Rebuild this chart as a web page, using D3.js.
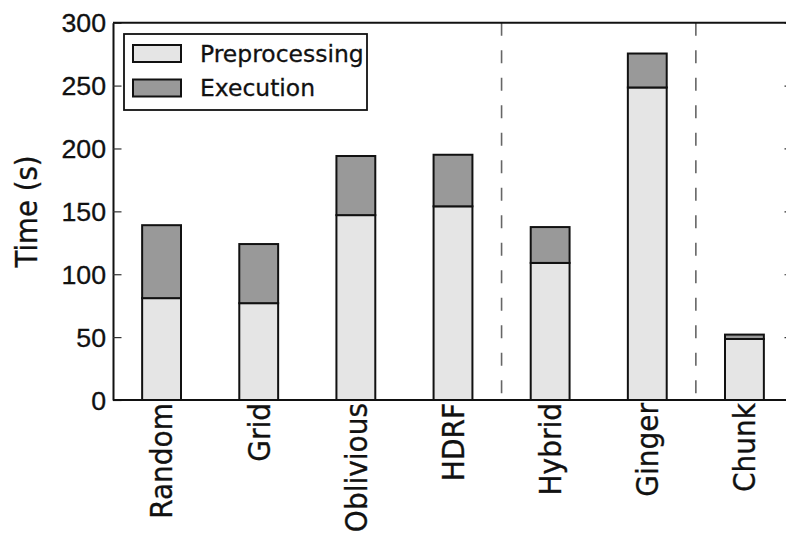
<!DOCTYPE html>
<html>
<head>
<meta charset="utf-8">
<script src="https://cdn.jsdelivr.net/npm/d3@7"></script>
<style>
  html, body { margin: 0; padding: 0; background: #fff; }
  svg { display: block; font-family: "DejaVu Sans", sans-serif; }
  svg text { stroke: #111; stroke-width: 0.3px; }
</style>
</head>
<body>
<div id="chart"></div>
<script>
const categories = ['Random', 'Grid', 'Oblivious', 'HDRF', 'Hybrid', 'Ginger', 'Chunk'];
const preprocessing = [81, 77, 147, 154, 109, 248.5, 48.5];
const execution = [58, 47, 47, 41, 28.5, 27, 3.5];
const seriesNames = ['Preprocessing', 'Execution'];
const yTicks = [0, 50, 100, 150, 200, 250, 300];
const groupStarts = ['Hybrid', 'Chunk']; // dashed separators before these

const width = 786;
const height = 533;
const margin = { top: 22.7, left: 113, right: -7, bottom: 133 };
const colors = ['#e5e5e5', '#999999'];

const svg = d3.select('#chart')
  .append('svg')
  .attr('width', width)
  .attr('height', height);

const x = d3.scaleBand()
  .domain(categories)
  .range([margin.left, width - margin.right])
  .paddingInner(0.6)
  .paddingOuter(0.3);

const y = d3.scaleLinear()
  .domain([0, 300])
  .range([height - margin.bottom, margin.top]);

// stacked rows
const rows = categories.map((c, i) => ({ cat: c, pre: preprocessing[i], exe: execution[i] }));

// group separators
svg.append('g')
  .selectAll('line')
  .data(groupStarts)
  .join('line')
  .attr('x1', d => x(d) - x.step() * x.paddingInner() / 2)
  .attr('x2', d => x(d) - x.step() * x.paddingInner() / 2)
  .attr('y1', y(300))
  .attr('y2', y(0))
  .attr('stroke', '#666')
  .attr('stroke-width', 1.6)
  .attr('stroke-dasharray', '13,14.5');

const bars = svg.append('g');
bars.selectAll('.pre')
  .data(rows)
  .join('rect')
  .attr('class', 'pre')
  .attr('x', d => x(d.cat))
  .attr('width', x.bandwidth())
  .attr('y', d => y(d.pre))
  .attr('height', d => y(0) - y(d.pre))
  .attr('fill', colors[0])
  .attr('stroke', '#111')
  .attr('stroke-width', 2);

bars.selectAll('.exe')
  .data(rows)
  .join('rect')
  .attr('class', 'exe')
  .attr('x', d => x(d.cat))
  .attr('width', x.bandwidth())
  .attr('y', d => y(d.pre + d.exe))
  .attr('height', d => y(d.pre) - y(d.pre + d.exe))
  .attr('fill', colors[1])
  .attr('stroke', '#111')
  .attr('stroke-width', 2);

// left axis, ticks pointing inward
const yAxis = svg.append('g')
  .attr('transform', 'translate(' + margin.left + ',0)')
  .call(d3.axisLeft(y).tickValues(yTicks).tickSizeInner(-8.5).tickSizeOuter(0));
yAxis.select('.domain').attr('stroke', '#111').attr('stroke-width', 2);
yAxis.selectAll('.tick line').attr('stroke', '#333').attr('stroke-width', 1.2);
yAxis.selectAll('.tick text')
  .attr('x', null)
  .attr('dy', '0.36em')
  .attr('transform', 'translate(-7,0) scale(1.07,1)')
  .attr('fill', '#111')
  .style('font-size', '25px');

// right axis (spine sits just outside the frame)
const yAxisR = svg.append('g')
  .attr('transform', 'translate(' + (width - margin.right) + ',0)')
  .call(d3.axisRight(y).tickValues(yTicks).tickSizeInner(-8.5).tickSizeOuter(0).tickFormat(''));
yAxisR.select('.domain').attr('stroke', '#111').attr('stroke-width', 2);
yAxisR.selectAll('.tick line').attr('stroke', '#333').attr('stroke-width', 1.2);

// top and bottom spines
svg.append('line')
  .attr('x1', margin.left).attr('x2', width - margin.right)
  .attr('y1', y(300)).attr('y2', y(300))
  .attr('stroke', '#111').attr('stroke-width', 2);
svg.append('line')
  .attr('x1', margin.left).attr('x2', width - margin.right)
  .attr('y1', y(0)).attr('y2', y(0))
  .attr('stroke', '#111').attr('stroke-width', 2);

// category labels, rotated
svg.append('g')
  .selectAll('text')
  .data(categories)
  .join('text')
  .attr('transform', d => 'translate(' + (x(d) + x.bandwidth() / 2) + ',' + (y(0) + 3) + ') scale(1.08,1) rotate(-90)')
  .attr('dy', '0.36em')
  .attr('text-anchor', 'end')
  .attr('fill', '#111')
  .style('font-size', '28px')
  .text(d => d);

// y label
svg.append('text')
  .attr('transform', 'translate(37,211.5) scale(1.09,1) rotate(-90)')
  .attr('text-anchor', 'middle')
  .attr('fill', '#111')
  .style('font-size', '27.6px')
  .text('Time (s)');

// legend
const legend = svg.append('g').attr('transform', 'translate(124,34)');
legend.append('rect')
  .attr('width', 243)
  .attr('height', 76)
  .attr('fill', '#fff')
  .attr('stroke', '#111')
  .attr('stroke-width', 1.8);
const items = legend.selectAll('.item')
  .data(seriesNames)
  .join('g')
  .attr('class', 'item')
  .attr('transform', (d, i) => 'translate(9,' + (11 + i * 34.5) + ')');
items.append('rect')
  .attr('width', 48)
  .attr('height', 17)
  .attr('fill', (d, i) => colors[i])
  .attr('stroke', '#111')
  .attr('stroke-width', 2);
items.append('text')
  .attr('transform', 'translate(67,8.5) scale(1.02,1)')
  .attr('dy', '0.36em')
  .attr('fill', '#111')
  .style('font-size', '23px')
  .text(d => d);
</script>
</body>
</html>
